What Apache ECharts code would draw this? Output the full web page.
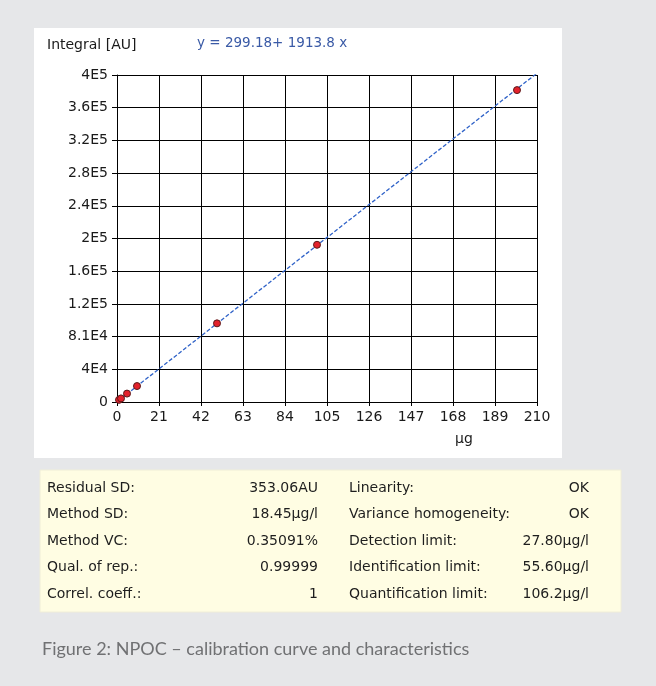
<!DOCTYPE html>
<html><head><meta charset="utf-8">
<script src="https://cdn.jsdelivr.net/npm/echarts@6/dist/echarts.min.js"></script>
<style>html,body{margin:0;padding:0;background:#e6e7e9}#c{width:656px;height:686px}</style>
</head><body><div id="c"></div>
<script>
// Calibration data (µg vs integral AU)
const pointsX = [1, 2, 5, 10, 50, 100, 200];
const pointsY = [2600, 4400, 10300, 19500, 96200, 192300, 381500];
// Fit equation shown in chart
const fitIntercept = 299.18;
const fitSlope = 1913.8;
const fitX = [0, 210];
// Axis ticks
const xTicks = [0, 21, 42, 63, 84, 105, 126, 147, 168, 189, 210];
const yTickLabels = ['0', '4E4', '8.1E4', '1.2E5', '1.6E5', '2E5', '2.4E5', '2.8E5', '3.2E5', '3.6E5', '4E5'];
// Table
const tableLabels1 = ['Residual SD:', 'Method SD:', 'Method VC:', 'Qual. of rep.:', 'Correl. coeff.:'];
const tableValues1 = ['353.06AU', '18.45µg/l', '0.35091%', '0.99999', '1'];
const tableLabels2 = ['Linearity:', 'Variance homogeneity:', 'Detection limit:', 'Identification limit:', 'Quantification limit:'];
const tableValues2 = ['OK', 'OK', '27.80µg/l', '55.60µg/l', '106.2µg/l'];

const F = 'DejaVu Sans';
const chart = echarts.init(document.getElementById('c'));
const graphics = [
  {type:'rect', shape:{x:34,y:28,width:528,height:430}, style:{fill:'#ffffff'}, z:-10},
  {type:'rect', shape:{x:40,y:470,width:581,height:142}, style:{fill:'#fffde3', stroke:'#f0eed8'}, z:-10},
  {type:'text', left:47, top:38, style:{text:'Integral [AU]', font:'14px "DejaVu Sans"', fill:'#1a1a1a'}},
  {type:'text', left:197, top:36, style:{text:'y = 299.18+ 1913.8 x', font:'13.5px "DejaVu Sans"', fill:'#3a5aa6'}},
  {type:'text', left:455, top:432, style:{text:'µg', font:'14px "DejaVu Sans"', fill:'#1a1a1a'}},
  {type:'text', left:42, top:640, style:{text:'Figure 2: NPOC – calibration curve and characteristics', font:'18px Lato', fill:'#707173'}}
];
const rowY = [488, 514, 541, 567, 594];
for (let i = 0; i < rowY.length; i++) {
  const st = {font:'14px "DejaVu Sans"', fill:'#1e1e1e', textVerticalAlign:'middle'};
  graphics.push({type:'text', x:47, y:rowY[i], style:Object.assign({text:tableLabels1[i], textAlign:'left'}, st)});
  graphics.push({type:'text', x:318, y:rowY[i], style:Object.assign({text:tableValues1[i], textAlign:'right'}, st)});
  graphics.push({type:'text', x:349, y:rowY[i], style:Object.assign({text:tableLabels2[i], textAlign:'left'}, st)});
  graphics.push({type:'text', x:589, y:rowY[i], style:Object.assign({text:tableValues2[i], textAlign:'right'}, st)});
}

chart.setOption({
  backgroundColor:'#e6e7e9',
  animation:false,
  textStyle:{fontFamily:F},
  grid:{left:117, top:75, width:420, height:327, containLabel:false},
  xAxis:{type:'value', min:xTicks[0], max:xTicks[xTicks.length-1], interval:21,
    axisLine:{lineStyle:{color:'#000', width:1}},
    axisTick:{show:true, length:4, lineStyle:{color:'#000'}},
    axisLabel:{color:'#1a1a1a', fontSize:14, fontFamily:F, margin:8},
    splitLine:{show:true, lineStyle:{color:'#000', width:1}}},
  yAxis:{type:'value', min:0, max:400000, interval:40000,
    axisLine:{show:true, lineStyle:{color:'#000', width:1}},
    axisTick:{show:true, length:5, lineStyle:{color:'#000'}},
    axisLabel:{color:'#1a1a1a', fontSize:14, fontFamily:F, margin:9,
      formatter:function(v){return yTickLabels[Math.round(v/40000)];}},
    splitLine:{show:true, lineStyle:{color:'#000', width:1}}},
  graphic:graphics,
  series:[
    {type:'line', data:fitX.map(x=>[x, fitIntercept + fitSlope*x]), clip:true, symbol:'none',
      lineStyle:{color:'#2f62c8', width:1.3, type:[4,2]}, z:3},
    {type:'scatter', data:pointsX.map((x,i)=>[x, pointsY[i]]), symbol:'circle', symbolSize:7,
      itemStyle:{color:'#e3212b', borderColor:'#5a1a1a', borderWidth:1, opacity:1}, z:4}
  ]
});
</script></body></html>
